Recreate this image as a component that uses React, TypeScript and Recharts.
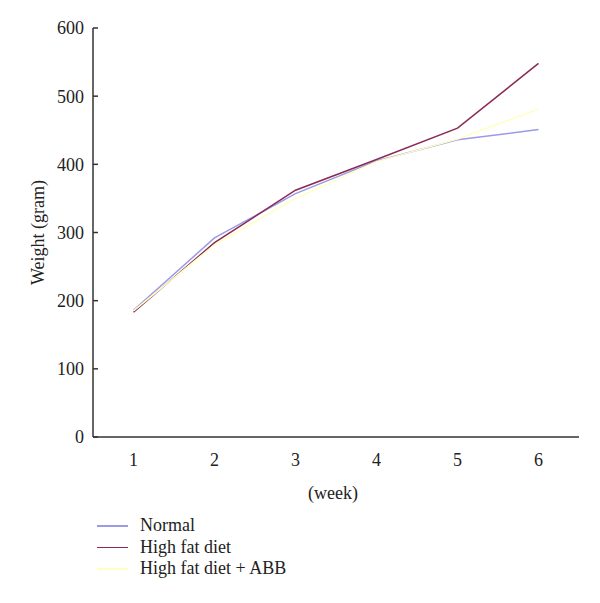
import React from "react";
import { LineChart, Line, XAxis, YAxis } from "recharts";

// page margin off so the svg sits at 0,0
document.body.style.margin = "0";

const WEEKS = [1, 2, 3, 4, 5, 6];
const NORMAL = [186, 292, 357, 405, 436, 451];
const HIGH_FAT = [183, 285, 362, 407, 453, 548];
const HIGH_FAT_ABB = [185, 282, 350, 404, 437, 481];
const Y_TICKS = [0, 100, 200, 300, 400, 500, 600];

const SERIES = [
  { key: "normal", name: "Normal", color: "#9a9ae6" },
  { key: "highFat", name: "High fat diet", color: "#8a2a55" },
  { key: "highFatAbb", name: "High fat diet + ABB", color: "#ffffc4" },
];

const data = WEEKS.map((w, i) => ({
  week: w,
  normal: NORMAL[i],
  highFat: HIGH_FAT[i],
  highFatAbb: HIGH_FAT_ABB[i],
}));

const FONT = "'Liberation Serif', 'DejaVu Serif', serif";
const AXIS_COLOR = "#333";
const TICK_STYLE = { fontFamily: FONT, fontSize: 18, fill: "#222" };

function LegendBox() {
  return (
    <div style={{ position: "absolute", left: 97, top: 515, fontFamily: FONT, fontSize: 18, color: "#222" }}>
      {SERIES.map((s) => (
        <div key={s.key} style={{ display: "flex", alignItems: "center", height: 21.5 }}>
          <span style={{ width: 31, height: 1.5, background: s.color, display: "inline-block", marginRight: 12 }} />
          {s.name}
        </div>
      ))}
    </div>
  );
}

export default function App() {
  return (
    <div style={{ position: "relative", width: 600, height: 603 }}>
      <LineChart width={600} height={603} data={data} margin={{ top: 28, right: 21, bottom: 136, left: 0 }}>
        <XAxis
          dataKey="week"
          type="number"
          domain={[0.5, 6.5]}
          ticks={WEEKS}
          tickLine={false}
          tickMargin={10}
          stroke={AXIS_COLOR}
          strokeWidth={1.5}
          tick={TICK_STYLE}
          label={({ viewBox }: any) => (
            <text
              x={viewBox.x + viewBox.width / 2 - 3}
              y={viewBox.y + 62}
              textAnchor="middle"
              style={{ fontFamily: FONT, fontSize: 18, fill: "#222" }}
            >
              (week)
            </text>
          )}
        />
        <YAxis
          width={93}
          domain={[0, 600]}
          ticks={Y_TICKS}
          tickSize={-5}
          tickMargin={14}
          stroke={AXIS_COLOR}
          strokeWidth={1.5}
          tick={TICK_STYLE}
          label={({ viewBox }: any) => {
            const cx = viewBox.x + 38;
            const cy = viewBox.y + viewBox.height / 2;
            return (
              <text
                x={cx}
                y={cy}
                transform={`rotate(-90 ${cx} ${cy})`}
                textAnchor="middle"
                dominantBaseline="central"
                style={{ fontFamily: FONT, fontSize: 18, fill: "#222" }}
              >
                Weight (gram)
              </text>
            );
          }}
        />
        {SERIES.map((s) => (
          <Line
            key={s.key}
            dataKey={s.key}
            name={s.name}
            stroke={s.color}
            strokeWidth={1.5}
            dot={false}
            activeDot={false}
            type="linear"
            isAnimationActive={false}
          />
        ))}
      </LineChart>
      <LegendBox />
    </div>
  );
}
